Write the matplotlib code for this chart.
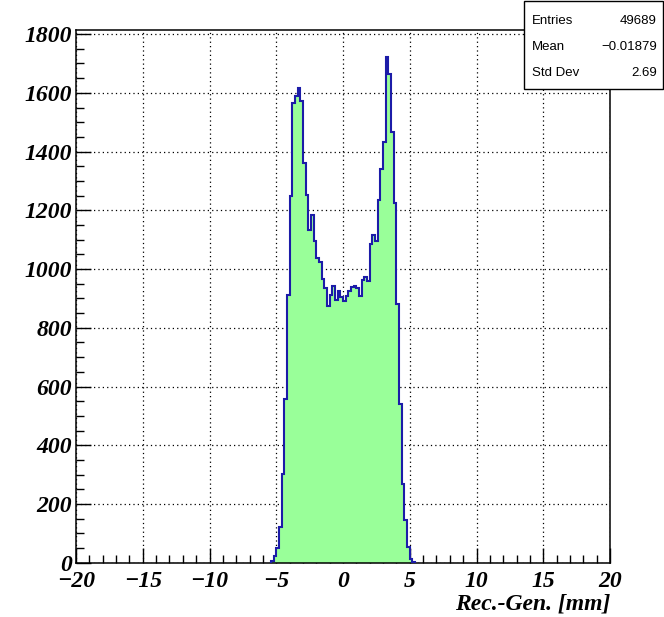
import matplotlib
matplotlib.use('Agg')
import matplotlib.pyplot as plt
import numpy as np
from matplotlib.patches import Rectangle
from matplotlib.ticker import MultipleLocator

# bin contents, 0.2 mm bins from -5.4 to 5.4 mm (all other bins are empty)
first_edge = -5.4
bin_width = 0.2
counts = [5, 22, 50, 120, 301, 557, 910, 1250, 1566, 1589,
          1615, 1571, 1361, 1253, 1134, 1185, 1094, 1038, 1023, 967,
          935, 875, 912, 943, 895, 924, 905, 890, 907, 924,
          939, 943, 935, 907, 964, 973, 958, 1084, 1115, 1095,
          1236, 1339, 1433, 1722, 1665, 1466, 1224, 882, 542, 269,
          147, 55, 12, 3]

stats_names = ['Entries', 'Mean', 'Std Dev']
stats_values = ['49689', '\u22120.01879', '2.69']

x_label = 'Rec.-Gen. [mm]'

edges = first_edge + bin_width * np.arange(len(counts) + 1)

fig = plt.figure(figsize=(6.64, 6.17), dpi=100)
ax = fig.add_axes([0.1145, 0.088, 0.8042, 0.8634])

ax.stairs(counts, edges, fill=True, color='#99ff99', zorder=2)
ax.stairs(counts, edges, color='#1c1ca8', linewidth=1.5, baseline=0, zorder=3)

ax.set_xlim(-20, 20)
ax.set_ylim(0, 1814)

ax.xaxis.set_major_locator(MultipleLocator(5))
ax.xaxis.set_minor_locator(MultipleLocator(1))
ax.yaxis.set_major_locator(MultipleLocator(200))
ax.yaxis.set_minor_locator(MultipleLocator(50))

ax.tick_params(which='both', direction='in', top=False, right=False, width=1.0)
ax.tick_params(which='major', length=11)
ax.tick_params(which='minor', length=5.5)
ax.tick_params(axis='x', pad=6)
ax.tick_params(axis='y', pad=3)

ax.set_axisbelow(True)
ax.grid(True, which='major', color='black', linestyle=(0, (1, 2.5)), linewidth=0.9)

for sp in ax.spines.values():
    sp.set_linewidth(1.1)

tick_font = dict(family='Liberation Serif', weight='bold', style='italic', size=17)
for lab in ax.get_xticklabels() + ax.get_yticklabels():
    lab.set_fontfamily(tick_font['family'])
    lab.set_fontweight(tick_font['weight'])
    lab.set_fontstyle(tick_font['style'])
    lab.set_fontsize(tick_font['size'])

fig.text(0.9187, 0.004, x_label, ha='right', va='bottom', **tick_font)

# stats box
box_x0 = 524 / 664
box_y0 = 1 - 89 / 617
box_w = 139 / 664
box_h = 88 / 617
fig.patches.append(Rectangle((box_x0, box_y0), box_w, box_h, transform=fig.transFigure,
                             facecolor='white', edgecolor='black', linewidth=1.0, zorder=10))
for i, (name, val) in enumerate(zip(stats_names, stats_values)):
    y = 1 - (21 + 26 * i) / 617
    fig.text(box_x0 + 8 / 664, y, name, ha='left', va='center',
             family='Liberation Sans', fontsize=9.5, zorder=11)
    fig.text(box_x0 + box_w - 6 / 664, y, val, ha='right', va='center',
             family='Liberation Sans', fontsize=9.5, zorder=11)

fig.savefig('out.png', dpi=100)
